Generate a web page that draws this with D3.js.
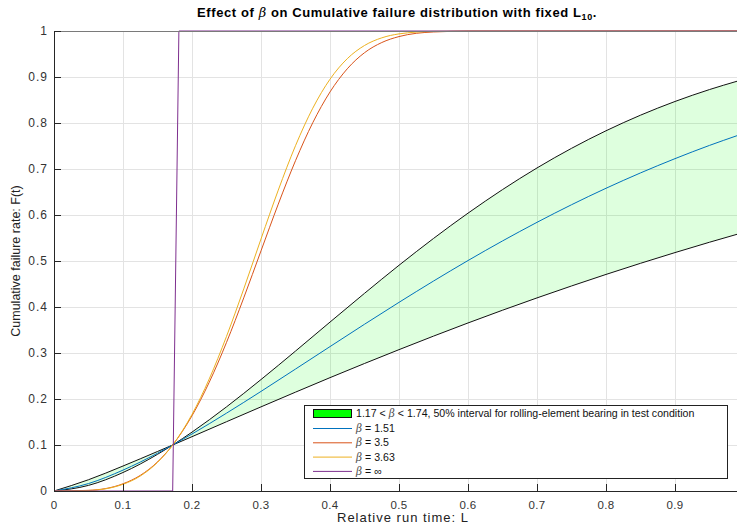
<!DOCTYPE html>
<html>
<head>
<meta charset="utf-8">
<script src="https://cdn.jsdelivr.net/npm/d3@7"></script>
<style>
  body { margin: 0; background: #fff; }
  svg { display: block; font-family: "Liberation Sans", Arial, sans-serif; }
</style>
</head>
<body>
<svg id="chart" width="737" height="530"></svg>
<script>
// values
const xBand = [0, 0.05, 0.1, 0.15, 0.172, 0.2, 0.25, 0.3, 0.35, 0.4, 0.45, 0.5, 0.55, 0.6, 0.65, 0.7, 0.75, 0.8, 0.85, 0.9, 0.95, 0.99]
const fLow = [0, 0.0245, 0.0543, 0.0859, 0.1, 0.1181, 0.1506, 0.1829, 0.2149, 0.2464, 0.2772, 0.3073, 0.3367, 0.3653, 0.3930, 0.4198, 0.4457, 0.4708, 0.4950, 0.5183, 0.5408, 0.5581]
const fBlue = [0, 0.0162, 0.0454, 0.0821, 0.1, 0.1239, 0.1692, 0.2165, 0.2651, 0.3139, 0.3625, 0.4101, 0.4564, 0.5010, 0.5436, 0.5841, 0.6223, 0.6581, 0.6915, 0.7225, 0.7513, 0.7725]
const fHigh = [0, 0.0122, 0.0402, 0.0797, 0.1, 0.1280, 0.1829, 0.2423, 0.3042, 0.3672, 0.4297, 0.4907, 0.5490, 0.6040, 0.6552, 0.7023, 0.7449, 0.7831, 0.8170, 0.8468, 0.8727, 0.8908]

const xSteep = [0, 0.05, 0.1, 0.125, 0.15, 0.172, 0.2, 0.225, 0.25, 0.275, 0.3, 0.325, 0.35, 0.375, 0.4, 0.425, 0.45, 0.475, 0.5, 0.55, 0.6, 0.99]
const f350 = [0, 0.0014, 0.0157, 0.0339, 0.0632, 0.1, 0.1636, 0.2365, 0.3230, 0.4199, 0.5221, 0.6236, 0.7181, 0.8006, 0.8675, 0.9178, 0.9528, 0.9749, 0.9879, 0.9979, 0.9996, 1]
const f363 = [0, 0.0012, 0.0146, 0.0325, 0.0621, 0.1, 0.1665, 0.2437, 0.3361, 0.4394, 0.5479, 0.6540, 0.7507, 0.8321, 0.8952, 0.9398, 0.9685, 0.9851, 0.9937, 0.9992, 1, 1]

const xInf = [0, 0.172, 0.181, 0.99]
const fInf = [0, 0, 1, 1]

const xTicks = [0, 0.1, 0.2, 0.3, 0.4, 0.5, 0.6, 0.7, 0.8, 0.9]
const yTicks = [0, 0.1, 0.2, 0.3, 0.4, 0.5, 0.6, 0.7, 0.8, 0.9, 1]

const legendLabels = ['β = 1.51', 'β = 3.5', 'β = 3.63', 'β = ∞']

const svg = d3.select('#chart')
const pLeft = 54, pRight = 737, pTop = 31, pBottom = 491

const x = d3.scaleLinear().domain([0, 1]).range([pLeft, pLeft + 690])
const y = d3.scaleLinear().domain([0, 1]).range([pBottom, pTop])

svg.append('clipPath').attr('id', 'plot')
  .append('rect').attr('x', pLeft).attr('y', pTop - 2).attr('width', pRight - pLeft).attr('height', pBottom - pTop + 4)

// grid
const grid = svg.append('g').attr('stroke', '#e3e3e3').attr('stroke-width', 1)
grid.selectAll('.gx').data(xTicks.slice(1)).enter().append('line')
  .attr('x1', d => Math.round(x(d)) + 0.5).attr('x2', d => Math.round(x(d)) + 0.5)
  .attr('y1', pTop).attr('y2', pBottom)
grid.selectAll('.gy').data(yTicks.slice(1)).enter().append('line')
  .attr('x1', pLeft).attr('x2', pRight)
  .attr('y1', d => Math.round(y(d)) + 0.5).attr('y2', d => Math.round(y(d)) + 0.5)

const plot = svg.append('g').attr('clip-path', 'url(#plot)')

const band = xBand.map((d, i) => ({ x: d, lo: fLow[i], hi: fHigh[i], mid: fBlue[i] }))

plot.append('path').datum(band)
  .attr('fill', '#00ff00').attr('fill-opacity', 0.13)
  .attr('d', d3.area().curve(d3.curveMonotoneX)
    .x(d => x(d.x)).y0(d => y(d.lo)).y1(d => y(d.hi)))

const line = d3.line().curve(d3.curveMonotoneX).x(d => x(d[0])).y(d => y(d[1]))

function drawSeries(xs, ys, color, straight) {
  const pts = xs.map((d, i) => [d, ys[i]])
  plot.append('path').datum(pts)
    .attr('fill', 'none').attr('stroke', color).attr('stroke-width', 1)
    .attr('d', straight ? d3.line().x(d => x(d[0])).y(d => y(d[1])) : line)
}

drawSeries(xBand, fLow, '#111', false)
drawSeries(xBand, fHigh, '#111', false)
drawSeries(xBand, fBlue, '#0072BD', false)
drawSeries(xSteep, f350, '#D95319', false)
drawSeries(xSteep, f363, '#EDB120', false)

// axes box
const axisColor = '#262626'
svg.append('line').attr('x1', pLeft).attr('x2', pRight).attr('y1', pTop + 0.5).attr('y2', pTop + 0.5)
  .attr('stroke', '#7a7a7a').attr('stroke-width', 1)
svg.append('line').attr('x1', pLeft + 0.5).attr('x2', pLeft + 0.5).attr('y1', pTop).attr('y2', pBottom)
  .attr('stroke', axisColor).attr('stroke-width', 1)
svg.append('line').attr('x1', pLeft).attr('x2', pRight).attr('y1', pBottom + 0.5).attr('y2', pBottom + 0.5)
  .attr('stroke', axisColor).attr('stroke-width', 1)

drawSeries(xInf, fInf, '#7E2F8E', true)

// ticks (inward)
const tk = svg.append('g').attr('stroke', axisColor).attr('stroke-width', 1)
tk.selectAll('.tx').data(xTicks.slice(1)).enter().append('line')
  .attr('x1', d => Math.round(x(d)) + 0.5).attr('x2', d => Math.round(x(d)) + 0.5)
  .attr('y1', pBottom).attr('y2', pBottom - 7)
tk.selectAll('.ty').data(yTicks.slice(1)).enter().append('line')
  .attr('x1', pLeft).attr('x2', pLeft + 7)
  .attr('y1', d => Math.round(y(d)) + 0.5).attr('y2', d => Math.round(y(d)) + 0.5)

svg.append('g').selectAll('text').data(xTicks).enter().append('text')
  .attr('x', d => x(d)).attr('y', pBottom + 18)
  .attr('text-anchor', 'middle').attr('font-size', 11.5).attr('letter-spacing', 0.3).attr('fill', '#333')
  .text(d => d3.format('~g')(d))

svg.append('g').selectAll('text').data(yTicks).enter().append('text')
  .attr('x', pLeft - 6).attr('y', d => y(d) + 4)
  .attr('text-anchor', 'end').attr('font-size', 12).attr('letter-spacing', 1).attr('fill', '#333')
  .text(d => d3.format('~g')(d))

// labels
svg.append('text').attr('x', 403).attr('y', 522).attr('text-anchor', 'middle')
  .attr('font-size', 13).attr('letter-spacing', 1).attr('fill', '#222').text('Relative run time: L')

svg.append('text').attr('transform', `translate(20,${(pTop + pBottom) / 2}) rotate(-90)`)
  .attr('text-anchor', 'middle').attr('font-size', 12.5).attr('fill', '#222')
  .text('Cumulative failure rate: F(t)')

const title = svg.append('text').attr('x', 397).attr('y', 17).attr('text-anchor', 'middle')
  .attr('font-size', 13).attr('letter-spacing', 0.6).attr('font-weight', 'bold').attr('fill', '#000')
title.append('tspan').text('Effect of ')
title.append('tspan').attr('font-family', 'DejaVu Serif, serif').attr('font-style', 'italic')
  .attr('font-weight', 'normal').text('β')
title.append('tspan').text(' on Cumulative failure distribution with fixed L')
title.append('tspan').attr('font-size', 9).attr('dy', 3).text('10')
title.append('tspan').attr('dy', -3).text('.')

// legend
const lg = svg.append('g')
lg.append('rect').attr('x', 304.5).attr('y', 405.5).attr('width', 423).attr('height', 73)
  .attr('fill', '#fff').attr('stroke', '#222').attr('stroke-width', 1)

lg.append('rect').attr('x', 313.5).attr('y', 409.5).attr('width', 38).attr('height', 8)
  .attr('fill', '#00ff00').attr('stroke', '#111').attr('stroke-width', 1)
const t0 = lg.append('text').attr('x', 356).attr('y', 417).attr('font-size', 10.6).attr('fill', '#111')
t0.append('tspan').text('1.17 < ')
t0.append('tspan').attr('font-family', 'DejaVu Serif, serif').attr('font-style', 'italic').attr('fill', '#555').text('β')
t0.append('tspan').text(' < 1.74, 50% interval for rolling-element bearing in test condition')

const legendColors = ['#0072BD', '#D95319', '#EDB120', '#7E2F8E']
legendLabels.forEach((lab, i) => {
  const yy = 428 + i * 14.3
  lg.append('line').attr('x1', 313).attr('x2', 352).attr('y1', yy + 0.5).attr('y2', yy + 0.5)
    .attr('stroke', legendColors[i]).attr('stroke-width', 1)
  const t = lg.append('text').attr('x', 356).attr('y', yy + 4).attr('font-size', 10.6).attr('fill', '#111')
  t.append('tspan').attr('font-family', 'DejaVu Serif, serif').attr('font-style', 'italic').attr('fill', '#555').text('β')
  t.append('tspan').text(lab.slice(1))
})
</script>
</body>
</html>
